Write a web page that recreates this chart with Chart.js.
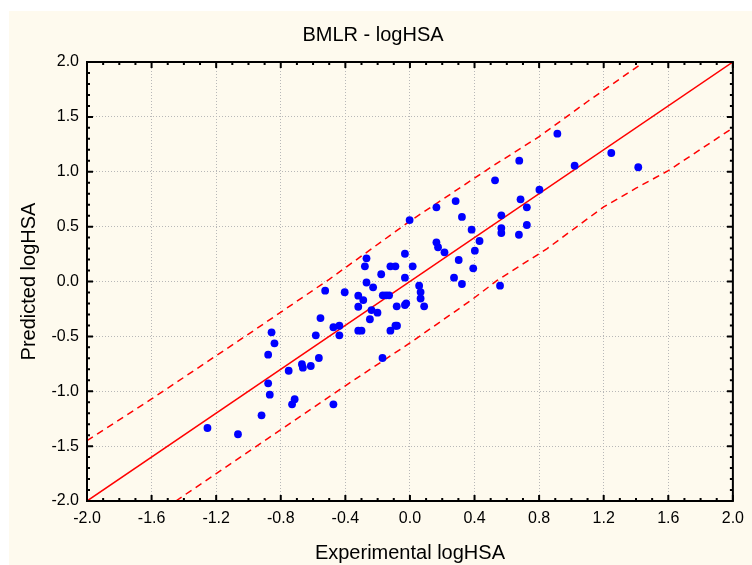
<!DOCTYPE html>
<html>
<head>
<meta charset="utf-8">
<script src="https://cdn.jsdelivr.net/npm/chart.js@4.4.1/dist/chart.umd.min.js"></script>
<style>
  html, body { margin: 0; padding: 0; background: #ffffff; }
  #frame { position: absolute; left: 9px; top: 11px; width: 743px; height: 554px; background: #fefaee; }
</style>
</head>
<body>
<div id="frame"><canvas id="chart"></canvas></div>
<script>
const expX = [
  -1.254, -1.065, -0.919, -0.868, -0.878, -0.878, -0.839, -0.857, -0.751, -0.669,
  -0.663, -0.614, -0.564, -0.730, -0.714, -0.474, -0.583, -0.554, -0.474, -0.437,
  -0.437, -0.525, -0.404, -0.320, -0.289, -0.320, -0.238, -0.201, -0.248, -0.320,
  -0.300, -0.170, -0.269, -0.228, -0.269, -0.279, -0.178, -0.121, -0.090, -0.168,
  -0.148, -0.129, -0.082, -0.031, -0.023, -0.090, -0.080, -0.121, -0.031, 0.017,
  -0.031, 0.057, 0.066, 0.066, 0.088, -0.002, 0.164, 0.164, 0.174, 0.214,
  0.283, 0.322, 0.382, 0.431, 0.402, 0.302, 0.392, 0.273, 0.322, 0.558,
  0.527, 0.566, 0.566, 0.566, 0.675, 0.724, 0.685, 0.724, 0.802, 0.677,
  0.913, 1.020, 1.247, 1.414
];
const predY = [
  -1.335, -1.392, -1.219, -1.031, -0.928, -0.667, -0.563, -0.463, -0.813, -0.754,
  -0.785, -0.770, -0.697, -1.119, -1.073, -1.119, -0.490, -0.333, -0.417, -0.403,
  -0.490, -0.084, -0.098, -0.129, -0.169, -0.230, -0.260, -0.284, -0.344, -0.448,
  -0.448, -0.697, -0.009, -0.053, 0.211, 0.138, 0.066, 0.138, 0.138, -0.126,
  -0.126, -0.126, -0.226, -0.214, -0.199, -0.403, -0.403, -0.448, 0.253, 0.138,
  0.035, -0.038, -0.096, -0.155, -0.226, 0.560, 0.676, 0.357, 0.312, 0.266,
  0.733, 0.588, 0.472, 0.369, 0.281, 0.196, 0.120, 0.035, -0.023, -0.038,
  0.922, 0.603, 0.487, 0.442, 0.426, 0.515, 0.749, 0.676, 0.836, 1.101,
  1.347, 1.055, 1.171, 1.041
];

// y = x reference line
const fitX = [-2.0, 2.0];
const fitY = [-2.0, 2.0];

// dashed prediction band
const upperX = [-2.0, -1.6, -1.0, -0.5, 0.0, 0.5, 0.8, 1.1, 1.42];
const upperY = [-1.45, -1.07, -0.48, 0.02, 0.55, 1.04, 1.32, 1.64, 1.97];
const lowerX = [-1.45, -1.07, -0.4, 0.0, 0.38, 0.54, 0.85, 1.2, 1.4, 1.6, 2.0];
const lowerY = [-2.0, -1.62, -0.95, -0.56, -0.17, 0.01, 0.30, 0.68, 0.85, 1.01, 1.40];

const xTicks = [-2.0, -1.6, -1.2, -0.8, -0.4, 0.0, 0.4, 0.8, 1.2, 1.6, 2.0];
const yTicks = [-2.0, -1.5, -1.0, -0.5, 0.0, 0.5, 1.0, 1.5, 2.0];

const FONT = "'Liberation Sans', Arial, sans-serif";
const toPts = (xs, ys) => xs.map((x, i) => ({ x: x, y: ys[i] }));

// black frame plus inward ticks on all four sides
const framePlugin = {
  id: 'frame',
  afterDraw(chart) {
    const { ctx, chartArea: a, scales: { x, y } } = chart;
    ctx.save();
    ctx.strokeStyle = '#000';
    ctx.lineWidth = 2;
    ctx.beginPath();
    const tick = (px, isX, len) => {
      if (isX) {
        ctx.moveTo(px, a.bottom); ctx.lineTo(px, a.bottom - len);
        ctx.moveTo(px, a.top); ctx.lineTo(px, a.top + len);
      } else {
        ctx.moveTo(a.left, px); ctx.lineTo(a.left + len, px);
        ctx.moveTo(a.right, px); ctx.lineTo(a.right - len, px);
      }
    };
    for (let v = -20; v <= 20; v++) {
      const major = xTicks.some(t => Math.abs(t * 10 - v) < 1e-6);
      tick(x.getPixelForValue(v / 10), true, major ? 6 : 3);
      const majorY = yTicks.some(t => Math.abs(t * 10 - v) < 1e-6);
      tick(y.getPixelForValue(v / 10), false, majorY ? 6 : 3);
    }
    ctx.stroke();
    ctx.strokeRect(a.left, a.top, a.right - a.left, a.bottom - a.top);
    ctx.restore();
  }
};

new Chart(document.getElementById('chart'), {
  type: 'scatter',
  data: {
    datasets: [
      {
        data: toPts(expX, predY),
        backgroundColor: '#0000ff',
        borderWidth: 0,
        pointRadius: 3.9
      },
      {
        type: 'line',
        data: toPts(fitX, fitY),
        borderColor: '#ff0000',
        borderWidth: 1.5,
        pointRadius: 0,
        fill: false
      },
      {
        type: 'line',
        data: toPts(upperX, upperY),
        borderColor: '#ff0000',
        borderWidth: 1.5,
        borderDash: [7, 5],
        pointRadius: 0,
        fill: false
      },
      {
        type: 'line',
        data: toPts(lowerX, lowerY),
        borderColor: '#ff0000',
        borderWidth: 1.5,
        borderDash: [7, 5],
        pointRadius: 0,
        fill: false
      }
    ]
  },
  options: {
    responsive: true,
    maintainAspectRatio: false,
    animation: false,
    layout: { padding: { left: 0, right: 15, top: 0, bottom: 0 } },
    plugins: {
      legend: { display: false },
      tooltip: { enabled: false },
      title: {
        display: true,
        text: 'BMLR - logHSA',
        color: '#000',
        font: { family: FONT, size: 20, weight: 'normal', lineHeight: 1.2 },
        padding: { top: 12, bottom: 15 }
      }
    },
    scales: {
      x: {
        type: 'linear',
        min: -2, max: 2,
        afterBuildTicks: s => { s.ticks = xTicks.map(v => ({ value: v })); },
        afterFit: s => { s.height = 64; },
        grid: { color: '#b8b8b8', lineWidth: 1, drawTicks: false },
        border: { display: false, dash: [1, 2] },
        ticks: {
          padding: 8,
          color: '#000',
          font: { family: FONT, size: 16 },
          maxRotation: 0,
          callback: v => v.toFixed(1)
        },
        title: {
          display: true,
          text: 'Experimental logHSA',
          color: '#000',
          font: { family: FONT, size: 20, lineHeight: 1.2 },
          padding: { top: 0, bottom: 0 }
        }
      },
      y: {
        type: 'linear',
        min: -2, max: 2,
        afterBuildTicks: s => { s.ticks = yTicks.map(v => ({ value: v })); },
        afterFit: s => { s.width = 78; },
        grid: { color: '#b8b8b8', lineWidth: 1, drawTicks: false },
        border: { display: false, dash: [1, 2] },
        ticks: {
          padding: 8,
          color: '#000',
          font: { family: FONT, size: 16 },
          callback: v => v.toFixed(1)
        },
        title: {
          display: true,
          text: 'Predicted logHSA',
          color: '#000',
          font: { family: FONT, size: 20, lineHeight: 1.2 },
          padding: { top: 8, bottom: 0 }
        }
      }
    }
  },
  plugins: [framePlugin]
});
</script>
</body>
</html>
